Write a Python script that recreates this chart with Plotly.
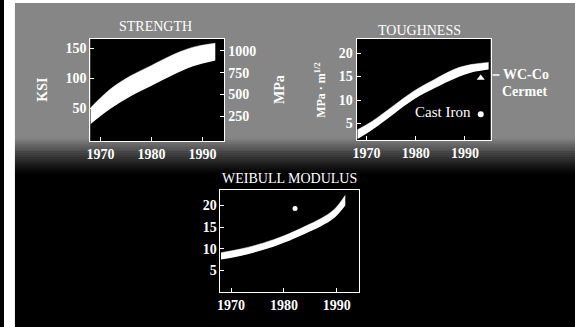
import plotly.graph_objects as go

# ---------------- data ----------------
str_years = [1968, 1972, 1976, 1980, 1984, 1988, 1992.5]
str_upper = [50, 82, 104, 121, 138, 151, 158]
str_lower = [23, 49, 70, 87, 104, 119, 129]
KSI_TO_MPA = 6.895

tough_years = [1968.2, 1971.2, 1975.5, 1979.6, 1984, 1988.2, 1991.5, 1994.8]
tough_upper = [3.7, 5.5, 8.8, 11.9, 14.5, 16.7, 17.6, 18.0]
tough_lower = [1.7, 3.7, 7.0, 10.1, 12.6, 14.7, 15.9, 16.5]

weib_years = [1968.1, 1972, 1976, 1980, 1984, 1987, 1989.5, 1991.6]
weib_upper = [9.1, 10.0, 11.3, 13.0, 15.2, 17.0, 19.1, 22.4]
weib_lower = [7.5, 8.4, 9.7, 11.4, 13.5, 15.2, 17.1, 20.0]

cermet_year, cermet_val = [1993.2], [14.7]
castiron_year, castiron_val = [1993.2], [7.0]
weib_point_year, weib_point_val = [1982.1], [19.3]

x_ticks = [1970, 1980, 1990]
ksi_ticks = [50, 100, 150]
mpa_ticks = [250, 500, 750, 1000]
tough_ticks = [5, 10, 15, 20]
weib_ticks = [5, 10, 15, 20]

# ---------------- figure ----------------
W, H = 575, 327
FONT = "Liberation Serif"
fig = go.Figure()


def band(xs, up, lo, xa, ya):
    fig.add_trace(go.Scatter(x=xs, y=lo, mode="lines", line=dict(width=0, color="white", shape="spline"),
                             xaxis=xa, yaxis=ya, showlegend=False, hoverinfo="skip"))
    fig.add_trace(go.Scatter(x=xs, y=up, mode="lines", line=dict(width=0.5, color="white", shape="spline"),
                             fill="tonexty", fillcolor="white",
                             xaxis=xa, yaxis=ya, showlegend=False, hoverinfo="skip"))


band(str_years, str_upper, str_lower, "x", "y")
# MPa companion (invisible) on the secondary axis
fig.add_trace(go.Scatter(x=str_years, y=[v * KSI_TO_MPA for v in str_upper], mode="lines",
                         line=dict(width=0), opacity=0, xaxis="x", yaxis="y2",
                         showlegend=False, hoverinfo="skip"))
band(tough_years, tough_upper, tough_lower, "x2", "y3")
band(weib_years, weib_upper, weib_lower, "x3", "y4")

fig.add_trace(go.Scatter(x=cermet_year, y=cermet_val, mode="markers",
                         marker=dict(symbol="triangle-up", size=7, color="white"),
                         xaxis="x2", yaxis="y3", showlegend=False))
fig.add_trace(go.Scatter(x=castiron_year, y=castiron_val, mode="markers",
                         marker=dict(symbol="circle", size=6, color="white"),
                         xaxis="x2", yaxis="y3", showlegend=False))
fig.add_trace(go.Scatter(x=weib_point_year, y=weib_point_val, mode="markers",
                         marker=dict(symbol="circle", size=5, color="white"),
                         xaxis="x3", yaxis="y4", showlegend=False))


def px_x(p):
    return p / W


def px_y(p):
    return 1 - p / H


tickfont = dict(family=FONT, size=14, color="white", weight="bold")
common = dict(showgrid=False, zeroline=False, showline=True, linecolor="white", linewidth=1,
              ticks="inside", ticklen=4, tickcolor="white", tickfont=tickfont)

boxes = {
    "str": (87, 222, 39, 141),
    "tough": (355, 490, 39, 140),
    "weib": (218, 357, 190, 292),
}

str_range = [-5, 165]
b = boxes["str"]
t = boxes["tough"]
w = boxes["weib"]
fig.update_layout(
    xaxis=dict(domain=[px_x(b[0]), px_x(b[1])], range=[1968, 1994.3], tickvals=x_ticks,
               anchor="y", mirror=True, **common),
    yaxis=dict(domain=[px_y(b[3]), px_y(b[2])], range=str_range, tickvals=ksi_ticks,
               anchor="x", **common),
    yaxis2=dict(overlaying="y", side="right", range=[v * KSI_TO_MPA for v in str_range],
                tickvals=mpa_ticks, anchor="x", **common),
    xaxis2=dict(domain=[px_x(t[0]), px_x(t[1])], range=[1968, 1995.2], tickvals=x_ticks,
                anchor="y3", mirror=True, **common),
    yaxis3=dict(domain=[px_y(t[3]), px_y(t[2])], range=[1.5, 23], tickvals=tough_ticks,
                anchor="x2", mirror=True, **common),
    xaxis3=dict(domain=[px_x(w[0]), px_x(w[1])], range=[1968, 1994.1], tickvals=x_ticks,
                anchor="y4", mirror=True, **common),
    yaxis4=dict(domain=[px_y(w[3]), px_y(w[2])], range=[0, 23.6], tickvals=weib_ticks,
                anchor="x3", mirror=True, **common),
)

# background: grey top fading to black
shapes = []
grey = 0x86
shapes.append(dict(type="rect", xref="paper", yref="paper", x0=0, x1=1, y0=px_y(138), y1=1,
                   fillcolor=f"rgb({grey},{grey},{grey})", line=dict(width=0), layer="below"))
steps = 20
span = 38
for i in range(steps):
    tt = (i + 0.5) / steps
    g = int(grey * (1 - tt) ** 1.3)
    y0 = 138 + i * span / steps
    shapes.append(dict(type="rect", xref="paper", yref="paper", x0=0, x1=1,
                       y0=px_y(y0 + span / steps + 0.5), y1=px_y(y0),
                       fillcolor=f"rgb({g},{g},{g})", line=dict(width=0), layer="below"))
# black plot areas
for (x0, x1, y0, y1) in boxes.values():
    shapes.append(dict(type="rect", xref="paper", yref="paper", x0=px_x(x0), x1=px_x(x1),
                       y0=px_y(y1), y1=px_y(y0), fillcolor="black", line=dict(width=0),
                       layer="below"))
# white scan border at left and top
shapes.append(dict(type="rect", xref="paper", yref="paper", x0=0, x1=px_x(11), y0=0, y1=1,
                   fillcolor="white", line=dict(width=0), layer="below"))
shapes.append(dict(type="rect", xref="paper", yref="paper", x0=0, x1=1, y0=px_y(3), y1=1,
                   fillcolor="white", line=dict(width=0), layer="below"))
# leader dash to WC-Co label
shapes.append(dict(type="line", xref="paper", yref="paper", x0=px_x(492), x1=px_x(499),
                   y0=px_y(75), y1=px_y(75), line=dict(color="white", width=1.5)))

titlefont = dict(family=FONT, size=14, color="white")
lblfont = dict(family=FONT, size=14, color="white", weight="bold")
ann = [
    dict(text="STRENGTH", x=px_x(153), y=px_y(27), font=titlefont),
    dict(text="TOUGHNESS", x=px_x(418), y=px_y(30), font=titlefont),
    dict(text="WEIBULL MODULUS", x=px_x(287), y=px_y(178), font=titlefont),
    dict(text="KSI", x=px_x(38), y=px_y(90), textangle=-90, font=lblfont),
    dict(text="MPa", x=px_x(277), y=px_y(90), textangle=-90, font=lblfont),
    dict(text="MPa · m<sup>1/2</sup>", x=px_x(318), y=px_y(90), textangle=-90,
         font=dict(family=FONT, size=12, color="white", weight="bold")),
    dict(text="WC-Co", x=px_x(500), y=px_y(75), xanchor="left", font=lblfont),
    dict(text="Cermet", x=px_x(499), y=px_y(92), xanchor="left", font=lblfont),
    dict(text="Cast Iron", x=px_x(472), y=px_y(112), xanchor="right",
         font=dict(family=FONT, size=15, color="white")),
]
for a in ann:
    a.setdefault("xref", "paper")
    a.setdefault("yref", "paper")
    a.setdefault("xanchor", "center")
    a.setdefault("yanchor", "middle")
    a.setdefault("showarrow", False)

fig.update_layout(
    width=W, height=H, autosize=False,
    margin=dict(l=0, r=0, t=0, b=0),
    paper_bgcolor="black", plot_bgcolor="black",
    shapes=shapes, annotations=ann, showlegend=False,
)

fig.write_html("out.html", config={"displayModeBar": False},
               post_script="document.body.style.margin='0';document.body.style.background='black';")
